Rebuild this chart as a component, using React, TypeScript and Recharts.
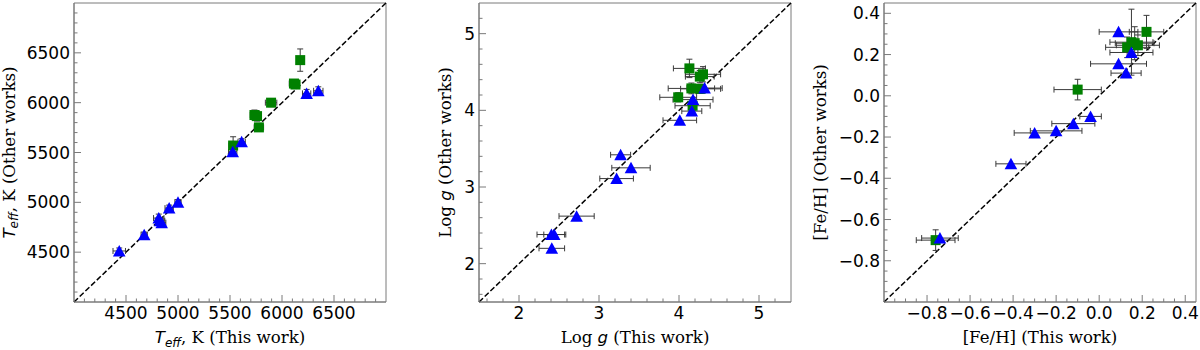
import React from 'react';
import { ScatterChart, Scatter, XAxis, YAxis, ErrorBar, ReferenceLine, ReferenceArea } from 'recharts';

// Teff (K): green squares / blue triangles
const teffGreenX = [5530, 5735, 5760, 5778, 5895, 6115, 6130, 6175];
const teffGreenY = [5570, 5876, 5865, 5752, 6000, 6192, 6182, 6427];
const teffGreenXErr = [40, 40, 40, 45, 55, 45, 40, 30];
const teffGreenYErr = [88, 50, 50, 40, 40, 40, 35, 112];
const teffBlueX = [4435, 4675, 4815, 4843, 4828, 4915, 5000, 5526, 5612, 6237, 6349];
const teffBlueY = [4512, 4676, 4842, 4796, 4815, 4942, 5002, 5508, 5608, 6093, 6119];
const teffBlueXErr = [60, 30, 50, 40, 45, 40, 30, 40, 35, 40, 45];
const teffBlueYErr = [30, 25, 40, 35, 30, 30, 25, 20, 30, 40, 40];

// log g
const loggGreenX = [3.99, 4.13, 4.155, 4.27, 4.26, 4.3, 4.17];
const loggGreenY = [4.17, 4.547, 4.286, 4.28, 4.44, 4.47, 4.06];
const loggGreenXErr = [0.23, 0.2, 0.29, 0.25, 0.18, 0.22, 0.22];
const loggGreenYErr = [0.06, 0.12, 0.07, 0.06, 0.08, 0.1, 0.06];
const loggBlueX = [2.41, 2.405, 2.44, 2.72, 3.22, 3.4, 3.27, 4.01, 4.16, 4.175, 4.32];
const loggBlueY = [2.2, 2.38, 2.38, 2.62, 3.11, 3.25, 3.42, 3.87, 3.99, 4.14, 4.29];
const loggBlueXErr = [0.16, 0.18, 0.13, 0.22, 0.21, 0.24, 0.125, 0.21, 0.125, 0.25, 0.22];

// [Fe/H]
const fehGreenX = [-0.76, -0.1, 0.22, 0.15, 0.165, 0.13, 0.18];
const fehGreenY = [-0.7, 0.03, 0.31, 0.26, 0.255, 0.235, 0.245];
const fehGreenXErr = [0.09, 0.11, 0.08, 0.1, 0.09, 0.1, 0.1];
const fehGreenYErr = [0.05, 0.05, 0.08, 0.16, 0.08, 0.05, 0.05];
const fehBlueX = [-0.74, -0.41, -0.3, -0.2, -0.12, -0.04, 0.09, 0.09, 0.125, 0.15];
const fehBlueY = [-0.69, -0.33, -0.18, -0.17, -0.135, -0.1, 0.31, 0.155, 0.11, 0.21];
const fehBlueXErr = [0.085, 0.07, 0.095, 0.12, 0.1, 0.05, 0.09, 0.13, 0.07, 0.1];

// axis ranges and tick labels
const teffRange = [4000, 7000];
const teffMajor = [4500, 5000, 5500, 6000, 6500];
const loggRange = [1.5, 5.4];
const loggMajor = [2, 3, 4, 5];
const fehRange = [-1.0, 0.45];
const fehMajor = [-0.8, -0.6, -0.4, -0.2, 0.0, 0.2, 0.4];

const SPINE = '#7a7a7a';
const SERIF = '"DejaVu Serif", serif';
const SANS = '"DejaVu Sans", sans-serif';

function pts(xs: number[], ys: number[], exs: number[], eys?: number[]) {
  return xs.map((x, i) => ({ x, y: ys[i], ex: exs[i], ey: eys ? eys[i] : 0 }));
}

function minorTicks(lo: number, hi: number, step: number) {
  const out: number[] = [];
  const n = Math.floor((hi - lo) / step + 1e-9);
  for (let i = 0; i <= n; i++) {
    const v = Math.round((Math.ceil(lo / step - 1e-9) + i) * step * 1e6) / 1e6;
    if (v > lo + 1e-9 && v < hi - 1e-9) out.push(v);
  }
  return out;
}

const isMajor = (v: number, majors: number[]) => majors.some((m) => Math.abs(m - v) < 1e-6);

function YTick(props: any) {
  const { x, y, payload, majors, fmt } = props;
  const major = isMajor(payload.value, majors);
  return (
    <g>
      <line x1={x} x2={x + (major ? 7 : 3.5)} y1={y} y2={y} stroke={SPINE} />
      {major && (
        <text x={x - 4} y={y} dy="0.36em" textAnchor="end" fontSize={17} fontFamily={SANS} fill="#000">
          {fmt(payload.value)}
        </text>
      )}
    </g>
  );
}

function XTick(props: any) {
  const { x, y, payload, majors, fmt } = props;
  const major = isMajor(payload.value, majors);
  return (
    <g>
      <line x1={x} x2={x} y1={y} y2={y - (major ? 7 : 3.5)} stroke={SPINE} />
      {major && (
        <text x={x} y={y + 17} textAnchor="middle" fontSize={17} fontFamily={SANS} fill="#000">
          {fmt(payload.value)}
        </text>
      )}
    </g>
  );
}

function XTitle({ viewBox, kind }: any) {
  const cx = viewBox.x + viewBox.width / 2;
  const by = viewBox.y + 41;
  return (
    <text x={cx} y={by} textAnchor="middle" fontSize={16.6} fontFamily={SERIF} fill="#000">
      <TitleBody kind={kind} suffix=" (This work)" />
    </text>
  );
}

function YTitle({ viewBox, kind, bx }: any) {
  const cy = viewBox.y + viewBox.height / 2;
  const x = viewBox.x + bx;
  return (
    <text x={x} y={cy} transform={`rotate(-90, ${x}, ${cy})`} textAnchor="middle" fontSize={16.6} fontFamily={SERIF} fill="#000">
      <TitleBody kind={kind} suffix=" (Other works)" />
    </text>
  );
}

function TitleBody({ kind, suffix }: { kind: string; suffix: string }) {
  if (kind === 'teff') {
    return (
      <>
        <tspan fontFamily={SANS} fontStyle="italic">T</tspan>
        <tspan fontFamily={SANS} fontStyle="italic" fontSize={12} dy={3.5}>eff</tspan>
        <tspan dy={-3.5}>{', K' + suffix}</tspan>
      </>
    );
  }
  if (kind === 'logg') {
    return (
      <>
        <tspan>Log </tspan>
        <tspan fontFamily={SANS} fontStyle="italic">g</tspan>
        <tspan>{suffix}</tspan>
      </>
    );
  }
  return <tspan>{'[Fe/H]' + suffix}</tspan>;
}

const Square = (p: any) => <rect x={p.cx - 5} y={p.cy - 5} width={10} height={10} fill="#008000" />;
const Triangle = (p: any) => (
  <polygon points={`${p.cx},${p.cy - 6} ${p.cx - 6.3},${p.cy + 5.5} ${p.cx + 6.3},${p.cy + 5.5}`} fill="#0000ff" />
);

type PanelProps = {
  left: number;
  kind: string;
  range: number[];
  majors: number[];
  minorStep: number;
  fmt: (v: number) => string;
  green: any[];
  blue: any[];
  blueYErr: boolean;
  titleX: number;
};

function Panel({ left, kind, range, majors, minorStep, fmt, green, blue, blueYErr, titleX }: PanelProps) {
  const ticks = minorTicks(range[0], range[1], minorStep);
  const errProps = { stroke: '#3a3a3a', strokeWidth: 1, width: 3, isAnimationActive: false };
  return (
    <div style={{ position: 'absolute', left, top: 0 }}>
      <ScatterChart width={390} height={350} margin={{ top: 3, right: 4, bottom: 0, left: 0 }}>
        <XAxis
          type="number"
          dataKey="x"
          domain={range}
          allowDataOverflow
          ticks={ticks}
          interval={0}
          height={48}
          tickSize={0}
          tickMargin={0}
          axisLine={{ stroke: SPINE }}
          tick={<XTick majors={majors} fmt={fmt} />}
          label={<XTitle kind={kind} />}
        />
        <YAxis
          type="number"
          dataKey="y"
          domain={range}
          allowDataOverflow
          ticks={ticks}
          interval={0}
          width={74}
          tickSize={0}
          tickMargin={0}
          axisLine={{ stroke: SPINE }}
          tick={<YTick majors={majors} fmt={fmt} />}
          label={<YTitle kind={kind} bx={titleX} />}
        />
        <ReferenceArea x1={range[0]} x2={range[1]} y1={range[0]} y2={range[1]} fill="none" stroke={SPINE} strokeWidth={1} />
        <ReferenceLine
          segment={[{ x: range[0], y: range[0] }, { x: range[1], y: range[1] }]}
          stroke="#000"
          strokeWidth={1.5}
          strokeDasharray="5.5 2.4"
        />
        <Scatter data={green} shape={Square} isAnimationActive={false}>
          <ErrorBar dataKey="ex" direction="x" {...errProps} />
          <ErrorBar dataKey="ey" direction="y" {...errProps} />
        </Scatter>
        <Scatter data={blue} shape={Triangle} isAnimationActive={false}>
          <ErrorBar dataKey="ex" direction="x" {...errProps} />
          {blueYErr && <ErrorBar dataKey="ey" direction="y" {...errProps} />}
        </Scatter>
      </ScatterChart>
    </div>
  );
}

const minus = (v: number, d: number) => {
  const s = Math.abs(v) < 1e-9 ? (0).toFixed(d) : v.toFixed(d);
  return s.replace('-', '\u2212');
};

export default function App() {
  return (
    <div style={{ position: 'absolute', left: 0, top: 0, width: 1200, height: 350, background: '#fff' }}>
      <Panel
        left={0}
        kind="teff"
        range={teffRange}
        majors={teffMajor}
        minorStep={100}
        fmt={(v) => String(v)}
        green={pts(teffGreenX, teffGreenY, teffGreenXErr, teffGreenYErr)}
        blue={pts(teffBlueX, teffBlueY, teffBlueXErr, teffBlueYErr)}
        blueYErr
        titleX={14.5}
      />
      <Panel
        left={405}
        kind="logg"
        range={loggRange}
        majors={loggMajor}
        minorStep={0.2}
        fmt={(v) => String(v)}
        green={pts(loggGreenX, loggGreenY, loggGreenXErr, loggGreenYErr)}
        blue={pts(loggBlueX, loggBlueY, loggBlueXErr)}
        blueYErr={false}
        titleX={46}
      />
      <Panel
        left={810}
        kind="feh"
        range={fehRange}
        majors={fehMajor}
        minorStep={0.05}
        fmt={(v) => minus(v, 1)}
        green={pts(fehGreenX, fehGreenY, fehGreenXErr, fehGreenYErr)}
        blue={pts(fehBlueX, fehBlueY, fehBlueXErr)}
        blueYErr={false}
        titleX={16}
      />
    </div>
  );
}
